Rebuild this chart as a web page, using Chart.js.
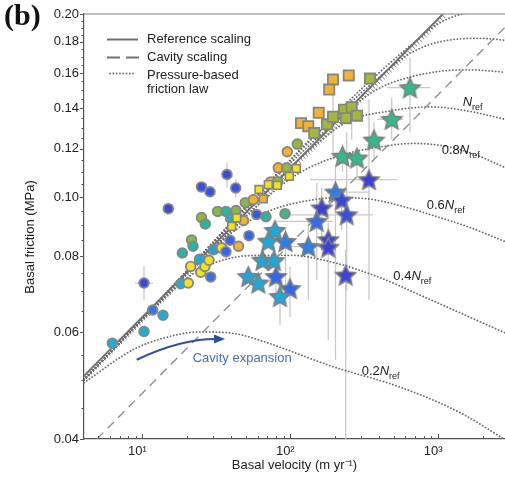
<!DOCTYPE html>
<html>
<head>
<meta charset="utf-8">
<script src="https://cdn.jsdelivr.net/npm/chart.js@4.4.0/dist/chart.umd.min.js"></script>
<style>
  html, body { margin: 0; padding: 0; background: #fff; }
  #wrap { width: 505px; height: 478px; }
</style>
</head>
<body>
<div id="wrap"><canvas id="frictionChart" width="505" height="478" style="width:505px;height:478px"></canvas></div>
<script>
const FONT = "'Liberation Sans', Arial, Helvetica, sans-serif";

// axis ticks
const xTickValues = [10, 100, 1000];
const xTickLabels = ['10\u00b9', '10\u00b2', '10\u00b3'];
const yTickLabels = ['0.04', '0.06', '0.08', '0.10', '0.12', '0.14', '0.16', '0.18', '0.20'];
const yTickValues = yTickLabels.map(Number);

// circles: basal velocity (m/yr), basal friction (MPa), colour-scale value
const circleVel = [6.25, 10.24, 11.72, 13.76, 10.24, 14.95, 18.60, 21.46, 21.97, 25.07, 26.60, 25.07, 28.62, 37.30, 42.72,
  49.62, 32.28, 36.72, 42.92, 18.13, 20.41, 21.19, 24.30, 24.76, 26.48, 28.18, 28.93, 30.32, 34.24, 39.09,
  36.72, 44.62, 52.55, 39.52, 48.25, 56.19, 73.72, 82.17, 95.43, 111.5, 82.94, 94.55, 59.25, 68.49, 92.08];
const circleFric = [0.0575, 0.0601, 0.0652, 0.0639, 0.0722, 0.0957, 0.0809, 0.0850, 0.0830, 0.0925, 0.0903, 0.1039, 0.1020, 0.1089, 0.1035,
  0.0979, 0.0947, 0.0947, 0.0950, 0.0720, 0.0722, 0.0769, 0.0790, 0.0752, 0.0769, 0.0787, 0.0739, 0.0819, 0.0825, 0.0849,
  0.0813, 0.0830, 0.0864, 0.0922, 0.0915, 0.0990, 0.1059, 0.1060, 0.1187, 0.1222, 0.1117, 0.1117, 0.0936, 0.0928, 0.0939];
const circleTone = [0.40, 0.40, 0.22, 0.40, 0.05, 0.05, 0.50, 0.70, 0.50, 0.72, 0.52, 0.08, 0.08, 0.06, 0.08,
  0.70, 0.70, 0.50, 0.70, 0.40, 1.00, 1.00, 0.38, 1.00, 1.00, 0.98, 0.18, 0.36, 0.98, 0.15,
  0.15, 0.86, 0.15, 0.45, 0.86, 0.86, 0.86, 0.72, 0.86, 0.72, 0.86, 0.72, 0.12, 0.52, 0.58];

// large squares
const squareVel = [194.5, 183.3, 248.5, 155.7, 118.1, 132.4, 346.1, 145.1, 177.1, 194.5, 230.9, 260.3, 282.7, 237.5];
const squareFric = [0.1560, 0.1502, 0.1585, 0.1376, 0.1323, 0.1308, 0.1566, 0.1274, 0.1317, 0.1355, 0.1392, 0.1405, 0.1361, 0.1348];
const squareTone = [0.86, 0.86, 0.86, 0.86, 0.86, 0.86, 0.74, 0.74, 0.74, 0.74, 0.74, 0.74, 0.74, 0.74];

// small squares near the reference line
const smallSquareVel = [61.41, 71.00, 81.66, 98.45, 109.8, 43.39, 40.14, 65.67];
const smallSquareFric = [0.1029, 0.1048, 0.1045, 0.1082, 0.1114, 0.0924, 0.0895, 0.0993];
const smallSquareTone = [1.00, 1.00, 1.00, 1.00, 1.00, 1.00, 1.00, 0.86];

// stars
const starVel = [645.5, 485.4, 368.4, 225.6, 282.7, 340.7, 202.2, 222.8, 163.1, 240.8, 150.9, 132.4, 180.7,
  180.7, 237.1, 92.80, 99.53, 80.03, 78.80, 71.00, 64.86, 77.58, 51.98, 60.74, 85.17];
const starFric = [0.1513, 0.1342, 0.1241, 0.1167, 0.1159, 0.1068, 0.1019, 0.0989, 0.0960, 0.0935, 0.0912, 0.0829, 0.0851,
  0.0827, 0.0744, 0.0845, 0.0707, 0.0740, 0.0881, 0.0846, 0.0787, 0.0786, 0.0740, 0.0722, 0.0686];
const starTone = [0.56, 0.56, 0.56, 0.56, 0.56, 0.02, 0.24, 0.04, 0.03, 0.08, 0.18, 0.24, 0.03,
  0.03, 0.04, 0.24, 0.15, 0.15, 0.38, 0.38, 0.38, 0.38, 0.38, 0.38, 0.38];

// vertical error bars: velocity, friction low, friction high
const vErrVel = [10.24, 37.30, 42.72, 194.5, 260.3, 645.5, 485.4, 368.4, 225.6, 282.7, 340.7, 202.2, 222.8, 163.1, 240.8,
  150.9, 132.4, 180.7, 237.1, 92.80, 99.53, 80.03, 85.17];
const vErrLo = [0.0678, 0.1036, 0.0998, 0.1153, 0.1244, 0.1277, 0.1244, 0.1153, 0.1101, 0.1077, 0.0678, 0.0540, 0.0884, 0.0819, 0.0700,
  0.0731, 0.0678, 0.0582, 0.0400, 0.0678, 0.0635, 0.0683, 0.0616];
const vErrHi = [0.0771, 0.1140, 0.1069, 0.1526, 0.1448, 0.1697, 0.1458, 0.1327, 0.1220, 0.1206, 0.1448, 0.1131, 0.1029, 0.1036, 0.1277,
  0.1056, 0.0918, 0.0908, 0.0819, 0.0884, 0.0768, 0.0783, 0.0717];

// horizontal error bars: friction, velocity low, velocity high
const hErrFric = [0.0722, 0.1513, 0.1342, 0.1068, 0.1019, 0.0935, 0.0912, 0.0829];
const hErrLo = [8.90, 451, 386, 135.9, 177.1, 89.3, 81.3, 89.3];
const hErrHi = [11.78, 882, 579, 527, 346, 363, 194.5, 210];

// reference and cavity scalings
const refVel = [4.02, 1079];
const refFric = [0.0508, 0.2];
const cavityVel = [4.92, 2836];
const cavityFric = [0.04, 0.1902];

// pressure-based friction law, one curve per effective pressure
const curveVel02 = [4.02, 8.63, 14.20, 24.49, 42.26, 69.57, 194.5, 552.4, 1407, 2836];
const curveFric02 = [0.0495, 0.0561, 0.0587, 0.0600, 0.0596, 0.0576, 0.0526, 0.0487, 0.0442, 0.0399];
const curveVel04 = [4.02, 13.13, 20.96, 30.94, 53.36, 99.53, 185.6, 404.5, 754.3, 1407, 2836];
const curveFric04 = [0.0501, 0.0670, 0.0742, 0.0780, 0.0801, 0.0802, 0.0783, 0.0737, 0.0690, 0.0645, 0.0598];
const curveVel06 = [4.02, 33.44, 49.38, 72.89, 116.3, 216.9, 346.1, 552.4, 1030, 1644, 2836];
const curveFric06 = [0.0501, 0.0843, 0.0904, 0.0950, 0.0981, 0.0998, 0.0992, 0.0968, 0.0925, 0.0891, 0.0845];
const curveVel08 = [4.02, 45.67, 72.89, 116.3, 216.9, 404.5, 676.4, 1149, 1777, 2836];
const curveFric08 = [0.0501, 0.0910, 0.1009, 0.1097, 0.1170, 0.1209, 0.1225, 0.1211, 0.1175, 0.1118];
const curveVel10 = [4.02, 158.9, 253.5, 451.1, 881.5, 1644, 2836];
const curveFric10 = [0.0501, 0.1236, 0.1337, 0.1383, 0.1407, 0.1383, 0.1342];
const curveVel12 = [4.02, 296.2, 437.3, 676.4, 1030, 1644, 2836];
const curveFric12 = [0.0501, 0.1440, 0.1526, 0.1579, 0.1610, 0.1619, 0.1604];
const curveVel14 = [4.02, 552.4, 815.3, 1301, 1921, 2836];
const curveFric14 = [0.0501, 0.1678, 0.1770, 0.1817, 0.1824, 0.1811];
const curveVel16 = [4.02, 909.4, 1242, 1777, 2836];
const curveFric16 = [0.0501, 0.1896, 0.1976, 0.2013, 0.2010];

// "cavity expansion" arrow path
const arrowVel = [9.14, 18.2, 36.2];
const arrowFric = [0.0540, 0.0573, 0.0584];

// curve labels (prefix before N_ref)
const curveLabelText = ['', '0.8', '0.6', '0.4', '0.2'];
const curveLabelVel = [1467, 1058, 837, 498, 304];
const curveLabelFric = [0.1410, 0.1175, 0.0954, 0.0731, 0.0510];

// colour scale, blue -> cyan -> green -> orange -> yellow
const toneStops = [
  [0.00, [61, 58, 210]],
  [0.15, [51, 102, 232]],
  [0.28, [42, 138, 230]],
  [0.40, [31, 173, 212]],
  [0.52, [37, 183, 156]],
  [0.62, [77, 186, 120]],
  [0.72, [147, 185, 60]],
  [0.86, [244, 178, 51]],
  [1.00, [242, 228, 26]]
];
function toneColor(t) {
  for (let i = 1; i < toneStops.length; i++) {
    if (t <= toneStops[i][0]) {
      const [t0, c0] = toneStops[i - 1], [t1, c1] = toneStops[i];
      const f = (t - t0) / (t1 - t0);
      const c = c0.map((v, k) => Math.round(v + (c1[k] - v) * f));
      return `rgb(${c[0]},${c[1]},${c[2]})`;
    }
  }
  const c = toneStops[toneStops.length - 1][1];
  return `rgb(${c[0]},${c[1]},${c[2]})`;
}

function starImage(fill, r) {
  const size = Math.ceil(2 * r + 4);
  const c = document.createElement('canvas');
  c.width = c.height = size;
  const g = c.getContext('2d');
  const cx = size / 2, cy = size / 2 + r * 0.08;
  g.beginPath();
  for (let i = 0; i < 10; i++) {
    const a = -Math.PI / 2 + i * Math.PI / 5;
    const rr = i % 2 ? r * 0.47 : r;
    g.lineTo(cx + rr * Math.cos(a), cy + rr * Math.sin(a));
  }
  g.closePath();
  g.fillStyle = fill;
  g.fill();
  g.lineWidth = 1.6;
  g.strokeStyle = '#7e7e7e';
  g.stroke();
  return c;
}

const pairs = (xs, ys) => xs.map((v, i) => ({ x: v, y: ys[i] }));

const dotted = (xs, ys) => ({
  data: pairs(xs, ys), showLine: true, pointRadius: 0, borderColor: '#6a6a6a', borderWidth: 1.8,
  borderDash: [0.1, 3.2], borderCapStyle: 'round', cubicInterpolationMode: 'monotone', order: 12
});

// error bars and the hatched side of the reference line, under the markers
const underlay = {
  id: 'underlay',
  beforeDatasetsDraw(chart) {
    const { ctx, chartArea: a, scales: { x, y } } = chart;
    ctx.save();
    ctx.beginPath();
    ctx.rect(a.left, a.top, a.right - a.left, a.bottom - a.top);
    ctx.clip();

    ctx.strokeStyle = '#c9c9c9';
    ctx.lineWidth = 1.3;
    ctx.beginPath();
    vErrVel.forEach((v, i) => {
      const px = x.getPixelForValue(v);
      ctx.moveTo(px, y.getPixelForValue(vErrLo[i]));
      ctx.lineTo(px, y.getPixelForValue(vErrHi[i]));
    });
    hErrFric.forEach((f, i) => {
      const py = y.getPixelForValue(f);
      ctx.moveTo(x.getPixelForValue(hErrLo[i]), py);
      ctx.lineTo(x.getPixelForValue(hErrHi[i]), py);
    });
    ctx.stroke();

    const x0 = x.getPixelForValue(refVel[0]), y0 = y.getPixelForValue(refFric[0]);
    const x1 = x.getPixelForValue(refVel[1]), y1 = y.getPixelForValue(refFric[1]);
    const len = Math.hypot(x1 - x0, y1 - y0);
    const ux = (x1 - x0) / len, uy = (y1 - y0) / len;
    ctx.strokeStyle = '#7a7a7a';
    ctx.lineWidth = 1;
    ctx.beginPath();
    for (let s = 0; s <= len; s += 3.3) {
      const px = x0 + ux * s, py = y0 + uy * s;
      ctx.moveTo(px, py);
      ctx.lineTo(px - uy * 4.5, py + ux * 4.5);
    }
    ctx.stroke();
    ctx.restore();
  }
};

// N_ref labels and the cavity expansion arrow
const annotations = {
  id: 'annotations',
  afterDatasetsDraw(chart) {
    const { ctx, scales: { x, y } } = chart;
    ctx.save();
    ctx.fillStyle = '#222';
    ctx.textBaseline = 'alphabetic';
    curveLabelText.forEach((t, i) => {
      let px = x.getPixelForValue(curveLabelVel[i]);
      const py = y.getPixelForValue(curveLabelFric[i]);
      ctx.font = `13px ${FONT}`;
      ctx.fillText(t, px, py);
      px += ctx.measureText(t).width;
      ctx.font = `italic 13px ${FONT}`;
      ctx.fillText('N', px, py);
      px += ctx.measureText('N').width;
      ctx.font = `9px ${FONT}`;
      ctx.fillText('ref', px, py + 4);
    });

    const p = arrowVel.map((v, i) => [x.getPixelForValue(v), y.getPixelForValue(arrowFric[i])]);
    const cx = 2 * p[1][0] - (p[0][0] + p[2][0]) / 2;
    const cy = 2 * p[1][1] - (p[0][1] + p[2][1]) / 2;
    const ang = Math.atan2(p[2][1] - cy, p[2][0] - cx);
    const head = 11;
    const bx = p[2][0] - Math.cos(ang) * head, by = p[2][1] - Math.sin(ang) * head;
    ctx.strokeStyle = '#2c4f9f';
    ctx.fillStyle = '#2c4f9f';
    ctx.lineWidth = 2.2;
    ctx.beginPath();
    ctx.moveTo(p[0][0], p[0][1]);
    ctx.quadraticCurveTo(cx, cy, bx + Math.cos(ang) * 2, by + Math.sin(ang) * 2);
    ctx.stroke();
    ctx.beginPath();
    ctx.moveTo(p[2][0], p[2][1]);
    ctx.lineTo(bx + Math.sin(ang) * 4.5, by - Math.cos(ang) * 4.5);
    ctx.lineTo(bx - Math.sin(ang) * 4.5, by + Math.cos(ang) * 4.5);
    ctx.closePath();
    ctx.fill();

    ctx.font = `13px ${FONT}`;
    ctx.fillStyle = '#4a6db8';
    ctx.fillText('Cavity expansion', x.getPixelForValue(21.86), y.getPixelForValue(0.05356));
    ctx.restore();
  }
};

// tick marks, top frame, legend, y title and panel letter
const frame = {
  id: 'frame',
  afterDraw(chart) {
    const { ctx, chartArea: a, scales: { x, y } } = chart;
    ctx.save();
    ctx.strokeStyle = '#555';
    ctx.lineWidth = 1;
    ctx.beginPath();
    x.ticks.forEach(t => {
      const px = Math.round(x.getPixelForValue(t.value)) + 0.5;
      const len = xTickValues.includes(t.value) ? 5 : 3;
      ctx.moveTo(px, a.bottom);
      ctx.lineTo(px, a.bottom - len);
    });
    y.ticks.forEach(t => {
      const py = Math.round(y.getPixelForValue(t.value)) + 0.5;
      const major = yTickValues.some(v => Math.abs(v - t.value) < 1e-6);
      ctx.moveTo(a.left, py);
      ctx.lineTo(a.left - (major ? 4 : 2.5), py);
    });
    ctx.stroke();

    ctx.strokeStyle = '#808080';
    ctx.lineWidth = 1.2;
    ctx.beginPath();
    ctx.moveTo(a.left, a.top);
    ctx.lineTo(a.right, a.top);
    ctx.stroke();

    // legend
    ctx.strokeStyle = '#707070';
    ctx.lineWidth = 2;
    ctx.beginPath();
    ctx.moveTo(107, 39.5); ctx.lineTo(138, 39.5);
    ctx.stroke();
    ctx.setLineDash([13, 6]);
    ctx.beginPath();
    ctx.moveTo(107, 57.5); ctx.lineTo(139, 57.5);
    ctx.stroke();
    ctx.setLineDash([0.1, 3.2]);
    ctx.lineCap = 'round';
    ctx.lineWidth = 1.8;
    ctx.beginPath();
    ctx.moveTo(110, 73.5); ctx.lineTo(134, 73.5);
    ctx.stroke();
    ctx.setLineDash([]);
    ctx.fillStyle = '#222';
    ctx.font = `13px ${FONT}`;
    ctx.textBaseline = 'middle';
    ctx.fillText('Reference scaling', 147, 39.5);
    ctx.fillText('Cavity scaling', 147, 57.5);
    ctx.fillText('Pressure-based', 147, 75);
    ctx.fillText('friction law', 147, 89.5);

    ctx.save();
    ctx.translate(30, 237);
    ctx.rotate(-Math.PI / 2);
    ctx.textAlign = 'center';
    ctx.fillText('Basal friction (MPa)', 0, 0);
    ctx.restore();

    ctx.textBaseline = 'alphabetic';
    ctx.font = `bold 30px 'Liberation Serif', 'Times New Roman', serif`;
    ctx.fillStyle = '#111';
    ctx.fillText('(b)', 4, 25);
    ctx.restore();
  }
};

const xAllTicks = [];
[1, 10, 100, 1000].forEach(d => {
  for (let k = 1; k <= 9; k++) {
    const v = k * d;
    if (v > 4.02 && v < 2836) xAllTicks.push(v);
  }
});
const yAllTicks = [];
for (let k = 8; k <= 40; k++) yAllTicks.push(+(k * 0.005).toFixed(3));

new Chart(document.getElementById('frictionChart'), {
  type: 'scatter',
  data: {
    datasets: [
      {
        data: pairs(starVel, starFric),
        pointStyle: starTone.map(t => starImage(toneColor(t), 10.5)),
        pointRadius: 10.5, order: 1
      },
      {
        data: pairs(smallSquareVel, smallSquareFric), pointStyle: 'rect', pointRadius: 5.5,
        backgroundColor: smallSquareTone.map(toneColor), borderColor: '#858585', borderWidth: 1.6, order: 2
      },
      {
        data: pairs(squareVel, squareFric), pointStyle: 'rect', pointRadius: 7.2,
        backgroundColor: squareTone.map(toneColor), borderColor: '#858585', borderWidth: 1.8, order: 3
      },
      {
        data: pairs(circleVel, circleFric), pointStyle: 'circle', pointRadius: 4.8,
        backgroundColor: circleTone.map(toneColor), borderColor: '#868686', borderWidth: 1.9, order: 4
      },
      {
        data: pairs(refVel, refFric), showLine: true, pointRadius: 0,
        borderColor: '#707070', borderWidth: 2, order: 10
      },
      {
        data: pairs(cavityVel, cavityFric), showLine: true, pointRadius: 0,
        borderColor: '#8a8a8a', borderWidth: 1.3, borderDash: [9, 6], order: 11
      },
      dotted(curveVel02, curveFric02),
      dotted(curveVel04, curveFric04),
      dotted(curveVel06, curveFric06),
      dotted(curveVel08, curveFric08),
      dotted(curveVel10, curveFric10),
      dotted(curveVel12, curveFric12),
      dotted(curveVel14, curveFric14),
      dotted(curveVel16, curveFric16)
    ]
  },
  options: {
    responsive: false,
    animation: false,
    devicePixelRatio: 1,
    layout: { autoPadding: false, padding: { top: 14, right: 0, bottom: 0, left: 0 } },
    plugins: { legend: { display: false }, tooltip: { enabled: false } },
    scales: {
      x: {
        type: 'logarithmic', min: 4.02, max: 2836,
        afterFit: s => { s.height = 39; s.paddingLeft = 0; s.paddingRight = 0; },
        afterBuildTicks: s => { s.ticks = xAllTicks.map(v => ({ value: v })); },
        grid: { display: false, drawTicks: false },
        border: { display: true, color: '#555', width: 1.2 },
        ticks: {
          autoSkip: false, maxRotation: 0, padding: 5, labelOffset: -5,
          color: '#222', font: { family: FONT, size: 13 },
          callback: v => {
            const i = xTickValues.indexOf(v);
            return i >= 0 ? xTickLabels[i] : '';
          }
        },
        title: {
          display: true, text: 'Basal velocity (m yr\u207b\u00b9)', color: '#222',
          font: { family: FONT, size: 13 }, padding: { top: 0, bottom: 5 }
        }
      },
      y: {
        type: 'logarithmic', min: 0.04, max: 0.2,
        afterFit: s => { s.width = 84; s.paddingTop = 0; s.paddingBottom = 0; },
        afterBuildTicks: s => { s.ticks = yAllTicks.map(v => ({ value: v })); },
        grid: { display: false, drawTicks: false },
        border: { display: true, color: '#555', width: 1.2 },
        ticks: {
          autoSkip: false, padding: 5, color: '#222', font: { family: FONT, size: 13 },
          callback: v => {
            const i = yTickValues.findIndex(t => Math.abs(t - v) < 1e-6);
            return i >= 0 ? yTickLabels[i] : '';
          }
        }
      }
    }
  },
  plugins: [underlay, annotations, frame]
});
</script>
</body>
</html>
